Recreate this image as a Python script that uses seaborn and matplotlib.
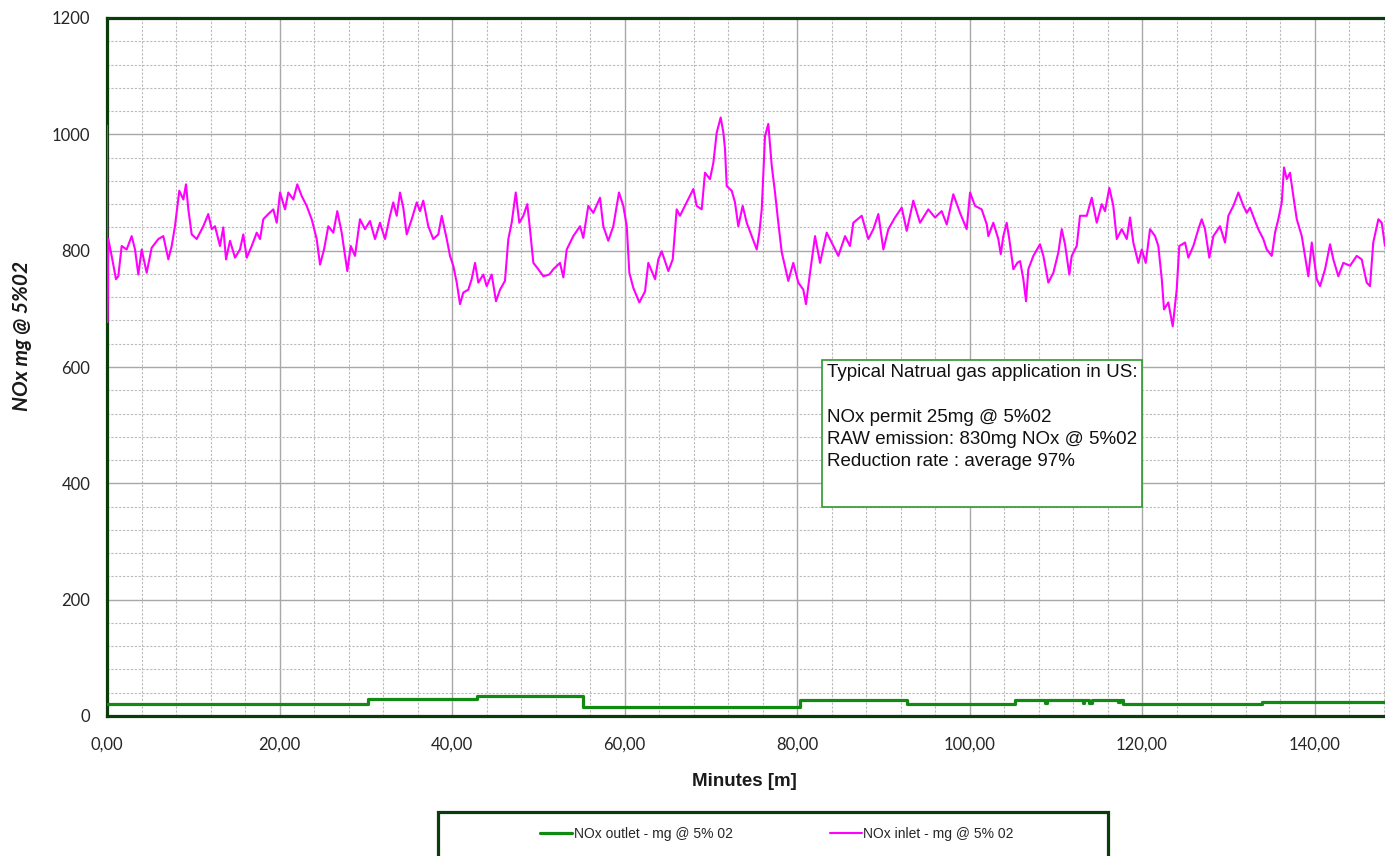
import matplotlib
matplotlib.use("Agg")
import matplotlib.pyplot as plt
import seaborn as sns
import pandas as pd
from matplotlib.ticker import MultipleLocator, FuncFormatter
from matplotlib.patches import Rectangle

# --- NOx inlet readings (minutes, mg @ 5% O2), three stretches of the run ---
minutes_a = [0.0, 0.03, 0.15, 0.54, 1.04, 1.31, 1.70, 2.28, 2.86, 3.25,
             3.63, 4.02, 4.60, 5.18, 5.95, 6.53, 7.11, 7.50, 7.88, 8.38,
             8.85, 9.16, 9.43, 9.82, 10.40, 10.78, 11.17, 11.74, 12.14, 12.52,
             13.10, 13.48, 13.80, 14.26, 14.84, 15.42, 15.80, 16.20, 16.78, 17.36,
             17.74, 18.12, 18.70, 19.28, 19.68, 20.06, 20.64, 21.02, 21.60, 22.06,
             22.57, 23.15, 23.73, 24.31, 24.70, 25.16, 25.66, 26.24, 26.70, 27.21,
             27.86, 28.26, 28.75, 29.33, 29.91, 30.49, 31.07, 31.65, 32.23, 32.81,
             33.19, 33.59, 33.97, 34.35, 34.75, 35.33, 35.91, 36.29, 36.67, 37.25,
             37.83, 38.41, 38.81, 39.39, 39.77, 40.15, 40.55, 40.93, 41.31, 41.89,
             42.28, 42.67, 43.05, 43.63, 44.02, 44.60, 45.10, 45.57, 46.14, 46.53,
             46.92, 47.39, 47.80, 48.27, 48.73, 49.04, 49.43, 50.01, 50.59, 51.28]
nox_a = [1015, 677, 820, 791, 751, 756, 808, 802, 825, 802,
         759, 802, 762, 805, 820, 825, 785, 808, 842, 903,
         888, 914, 871, 828, 820, 831, 842, 863, 837, 842,
         808, 840, 785, 817, 788, 802, 828, 788, 808, 831,
         820, 854, 863, 871, 848, 900, 871, 900, 888, 914,
         894, 877, 854, 820, 776, 802, 842, 831, 868, 831,
         765, 808, 791, 854, 837, 851, 820, 848, 820, 860,
         883, 860, 900, 874, 828, 854, 883, 868, 886, 842,
         820, 828, 860, 820, 791, 774, 745, 708, 728, 733,
         751, 779, 745, 759, 739, 759, 713, 733, 748, 820,
         848, 900, 848, 860, 880, 837, 779, 768, 756, 759]

minutes_b = [51.74, 52.52, 52.91, 53.30, 54.06, 54.84, 55.22, 55.80, 56.38, 57.16,
             57.54, 58.12, 58.70, 59.36, 59.86, 60.26, 60.56, 61.02, 61.72, 62.38,
             62.76, 63.54, 63.92, 64.31, 65.08, 65.59, 66.05, 66.43, 67.21, 67.98,
             68.37, 68.95, 69.33, 69.91, 70.30, 70.69, 71.15, 71.46, 71.65, 71.85,
             72.43, 72.81, 73.19, 73.70, 74.17, 74.75, 75.33, 75.63, 75.91, 76.29,
             76.67, 77.07, 77.45, 77.83, 78.23, 78.99, 79.57, 80.15, 80.73, 81.04,
             81.51, 82.09, 82.67, 83.44, 84.21, 84.79, 85.57, 86.14, 86.53, 87.50,
             88.27, 88.85, 89.43, 90.01, 90.59, 91.36, 92.14, 92.72, 93.48, 94.26,
             95.22, 96.00, 96.77, 97.36, 98.12, 98.90, 99.67, 100.06, 100.64, 101.41,
             102.00]
nox_b = [768, 779, 754, 802, 825, 842, 822, 877, 865, 891,
         842, 817, 842, 900, 877, 842, 762, 736, 711, 730,
         779, 751, 785, 799, 765, 785, 871, 860, 883, 906,
         877, 871, 934, 923, 951, 1003, 1029, 1003, 975, 911,
         903, 883, 842, 877, 848, 825, 802, 831, 871, 997,
         1018, 946, 900, 848, 797, 748, 779, 745, 733, 708,
         762, 825, 779, 831, 808, 791, 825, 808, 848, 860,
         820, 837, 863, 802, 837, 857, 874, 834, 886, 848,
         871, 857, 868, 845, 897, 865, 837, 900, 877, 871,
         845]

minutes_c = [102.18, 102.76, 103.34, 103.62, 103.92, 104.31, 104.61, 105.08, 105.54, 105.86,
             106.24, 106.55, 106.82, 107.40, 108.17, 108.56, 109.14, 109.72, 110.30, 110.69,
             111.07, 111.57, 111.85, 112.43, 112.81, 113.59, 114.17, 114.75, 115.33, 115.71,
             116.21, 116.67, 117.07, 117.65, 118.23, 118.61, 118.99, 119.57, 119.97, 120.43,
             120.93, 121.51, 121.89, 122.29, 122.55, 123.05, 123.56, 124.02, 124.32, 124.99,
             125.37, 125.95, 126.53, 126.92, 127.30, 127.80, 128.27, 129.04, 129.62, 130.01,
             130.59, 131.17, 131.75, 132.14, 132.52, 133.10, 133.48, 134.06, 134.46, 135.04,
             135.42, 135.80, 136.20, 136.46, 136.78, 137.16, 137.54, 137.94, 138.52, 138.90,
             139.28, 139.68, 140.26, 140.64, 141.22, 141.80, 142.18, 142.76, 143.34, 144.12,
             144.89, 145.47, 146.05, 146.43, 146.81, 147.40, 147.79, 148.17]
nox_c = [825, 848, 820, 794, 825, 848, 820, 768, 779, 782,
         751, 713, 768, 791, 811, 791, 745, 762, 797, 837,
         811, 759, 791, 808, 860, 860, 891, 848, 880, 868,
         908, 877, 820, 837, 820, 857, 814, 779, 802, 779,
         837, 825, 808, 751, 699, 711, 670, 733, 808, 814,
         788, 808, 837, 854, 837, 788, 825, 842, 814, 860,
         877, 900, 877, 865, 874, 851, 837, 820, 802, 791,
         831, 854, 883, 943, 923, 934, 894, 854, 825, 791,
         756, 814, 751, 739, 768, 811, 785, 756, 779, 774,
         791, 785, 745, 739, 814, 854, 848, 808]

# --- NOx outlet (stepwise analyser readings) ---
outlet_minutes = [0.0, 30.3, 42.9, 55.2, 80.3, 92.7, 105.3, 108.8, 109.0, 113.1,
                  113.3, 113.8, 114.2, 117.2, 117.4, 117.8, 133.9, 148.2]
outlet_nox = [21, 30, 35, 16, 28, 21, 28, 23, 28, 23,
              28, 22, 28, 24, 28, 21, 24, 24]

series_labels = ["NOx outlet - mg @ 5% 02", "NOx inlet - mg @ 5% 02"]
x_ticks = [0, 20, 40, 60, 80, 100, 120, 140]
y_ticks = [0, 200, 400, 600, 800, 1000, 1200]
note_text = ("Typical Natrual gas application in US:\n\n"
             "NOx permit 25mg @ 5%02\n"
             "RAW emission: 830mg NOx @ 5%02\n"
             "Reduction rate : average 97%")

GREEN = "#108A10"
DARK = "#0B3D0B"
MAGENTA = "#FF00FF"

sns.set_theme(style="white")
plt.rcParams["font.family"] = ["Lato", "DejaVu Sans"]

W, H = 1385, 856
fig = plt.figure(figsize=(W / 100, H / 100), dpi=100)
ax = fig.add_axes([107 / W, (H - 716) / H, 1278 / W, 698 / H])

inlet = pd.DataFrame({"minutes": minutes_a + minutes_b + minutes_c,
                      "nox": nox_a + nox_b + nox_c})
outlet = pd.DataFrame({"minutes": outlet_minutes, "nox": outlet_nox})

sns.lineplot(data=outlet, x="minutes", y="nox", ax=ax, color=GREEN, lw=2.3,
             drawstyle="steps-post", estimator=None, legend=False, zorder=4)
sns.lineplot(data=inlet, x="minutes", y="nox", ax=ax, color=MAGENTA, lw=1.5,
             estimator=None, sort=False, legend=False, zorder=3)
outlet_line, inlet_line = ax.lines[0], ax.lines[1]

ax.set_xlim(0, 148.17)
ax.set_ylim(0, 1200)
ax.set_xticks(x_ticks)
ax.set_yticks(y_ticks)
ax.xaxis.set_minor_locator(MultipleLocator(4))
ax.yaxis.set_minor_locator(MultipleLocator(40))
ax.xaxis.set_major_formatter(FuncFormatter(lambda v, p: f"{v:.2f}".replace(".", ",")))
ax.set_axisbelow(True)
ax.grid(which="major", color="#A8A8A8", lw=1.0, ls="-")
ax.grid(which="minor", color="#BABABA", lw=0.8, ls=(0, (2, 1.5)))
ax.tick_params(which="both", length=0)
ax.tick_params(axis="y", pad=12, labelsize=12, labelcolor="#262626")
ax.tick_params(axis="x", pad=15, labelsize=12, labelcolor="#262626")

for side in ("left", "top", "bottom"):
    ax.spines[side].set_color(DARK)
    ax.spines[side].set_linewidth(2.3)
ax.spines["right"].set_visible(False)

ax.set_ylabel("NOx mg @ 5%02", fontsize=15, fontweight="bold", style="italic",
              color="#1a1a1a")
ax.yaxis.label.set_va("center")
ax.yaxis.set_label_coords((22 - 107) / 1278, (716 - 336) / 698)
ax.set_xlabel("Minutes [m]", fontsize=13.5, fontweight="bold", color="#1a1a1a",
              family=["Liberation Sans", "DejaVu Sans"])
ax.xaxis.label.set_va("center")
ax.xaxis.set_label_coords(0.499, (716 - 782) / 698)

# annotation box
ax.add_patch(Rectangle(((822 - 107) / 1278, (716 - 507) / 698), 320 / 1278, 147 / 698,
                       transform=ax.transAxes, facecolor="white", edgecolor="#2E9A2E",
                       lw=1.2, zorder=5))
ax.text((827 - 107) / 1278, (716 - 364) / 698, note_text, transform=ax.transAxes,
        ha="left", va="top", fontsize=13.5, linespacing=1.41, color="#111111",
        family=["Liberation Sans", "DejaVu Sans"], zorder=6)

# legend strip under the chart
fig.add_artist(Rectangle((438 / W, (H - 880) / H), 670 / W, 68 / H,
                         transform=fig.transFigure, fill=False, edgecolor=DARK, lw=2.3))
fig.legend([outlet_line, inlet_line], series_labels, ncol=2, loc="center",
           bbox_to_anchor=(777 / W, (H - 834) / H), frameon=False,
           handlelength=2.3, handletextpad=0.1, columnspacing=7.0,
           prop={"family": ["Liberation Sans", "DejaVu Sans"], "size": 10})

fig.savefig("out.png", dpi=100)
